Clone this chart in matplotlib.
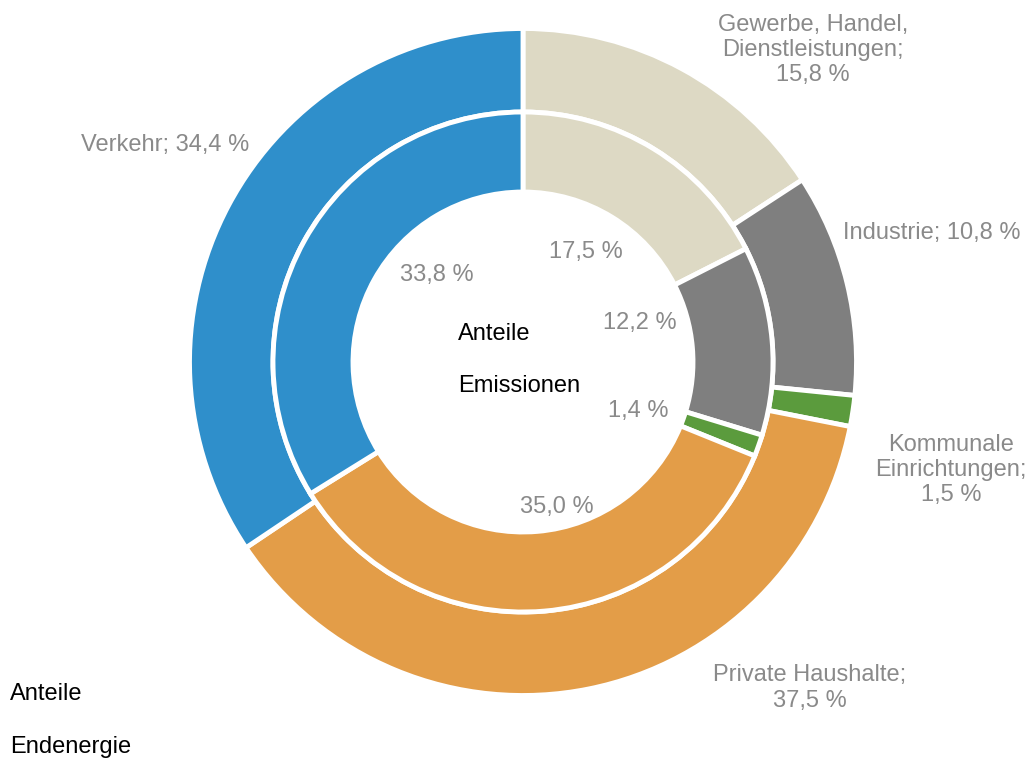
import matplotlib
matplotlib.use("Agg")
import matplotlib.pyplot as plt

plt.rcParams['font.family'] = ['Liberation Sans', 'DejaVu Sans']

# Sektoren im Uhrzeigersinn ab 12 Uhr
sectors = ['Gewerbe, Handel,\nDienstleistungen;', 'Industrie;', 'Kommunale\nEinrichtungen;',
           'Private Haushalte;', 'Verkehr;']
endenergie = [15.8, 10.8, 1.5, 37.5, 34.4]   # aeusserer Ring
emissionen = [17.5, 12.2, 1.4, 35.0, 33.8]   # innerer Ring
colors = ['#DDD9C4', '#7F7F7F', '#5B9B3D', '#E39D48', '#2F8FCB']

# Beschriftungspositionen in Pixeln (x, y von oben)
outer_label_pos = [(813, 50), (932, 233), (951, 470), (810, 688), (165, 145)]
outer_label_sep = ['\n', ' ', '\n', '\n', ' ']
inner_label_pos = [(586, 252), (640, 323), (638, 411), (557, 507), (437, 275)]

W, H = 1032, 758
center = (523, H - 362)
lw = 3.5
fs = 17
label_grey = '#8A8A8A'

fig = plt.figure(figsize=(W / 100, H / 100), dpi=100)
ax = fig.add_axes([0, 0, 1, 1])

wp = dict(edgecolor='white', linewidth=lw)
ax.pie(endenergie, colors=colors, radius=333.5, center=center, startangle=90,
       counterclock=False, wedgeprops=dict(width=83.5, **wp))
ax.pie(emissionen, colors=colors, radius=250, center=center, startangle=90,
       counterclock=False, wedgeprops=dict(width=80, **wp))

def fmt(v):
    return f'{v:.1f}'.replace('.', ',') + ' %'

for name, sep, v, (x, y) in zip(sectors, outer_label_sep, endenergie, outer_label_pos):
    ax.text(x, H - y, name + sep + fmt(v), ha='center', va='center',
            fontsize=fs, color=label_grey, linespacing=1.2)

for v, (x, y) in zip(emissionen, inner_label_pos):
    ax.text(x, H - y, fmt(v), ha='center', va='center', fontsize=fs, color=label_grey)

ax.text(458, H - 334, 'Anteile', ha='left', va='center', fontsize=fs, color='black')
ax.text(458, H - 386, 'Emissionen', ha='left', va='center', fontsize=fs, color='black')
ax.text(10, H - 694, 'Anteile', ha='left', va='center', fontsize=fs, color='black')
ax.text(10, H - 747, 'Endenergie', ha='left', va='center', fontsize=fs, color='black')

ax.set_xlim(0, W)
ax.set_ylim(0, H)
ax.set_aspect('equal')
ax.axis('off')

fig.savefig('out.png', dpi=100, facecolor='white')
